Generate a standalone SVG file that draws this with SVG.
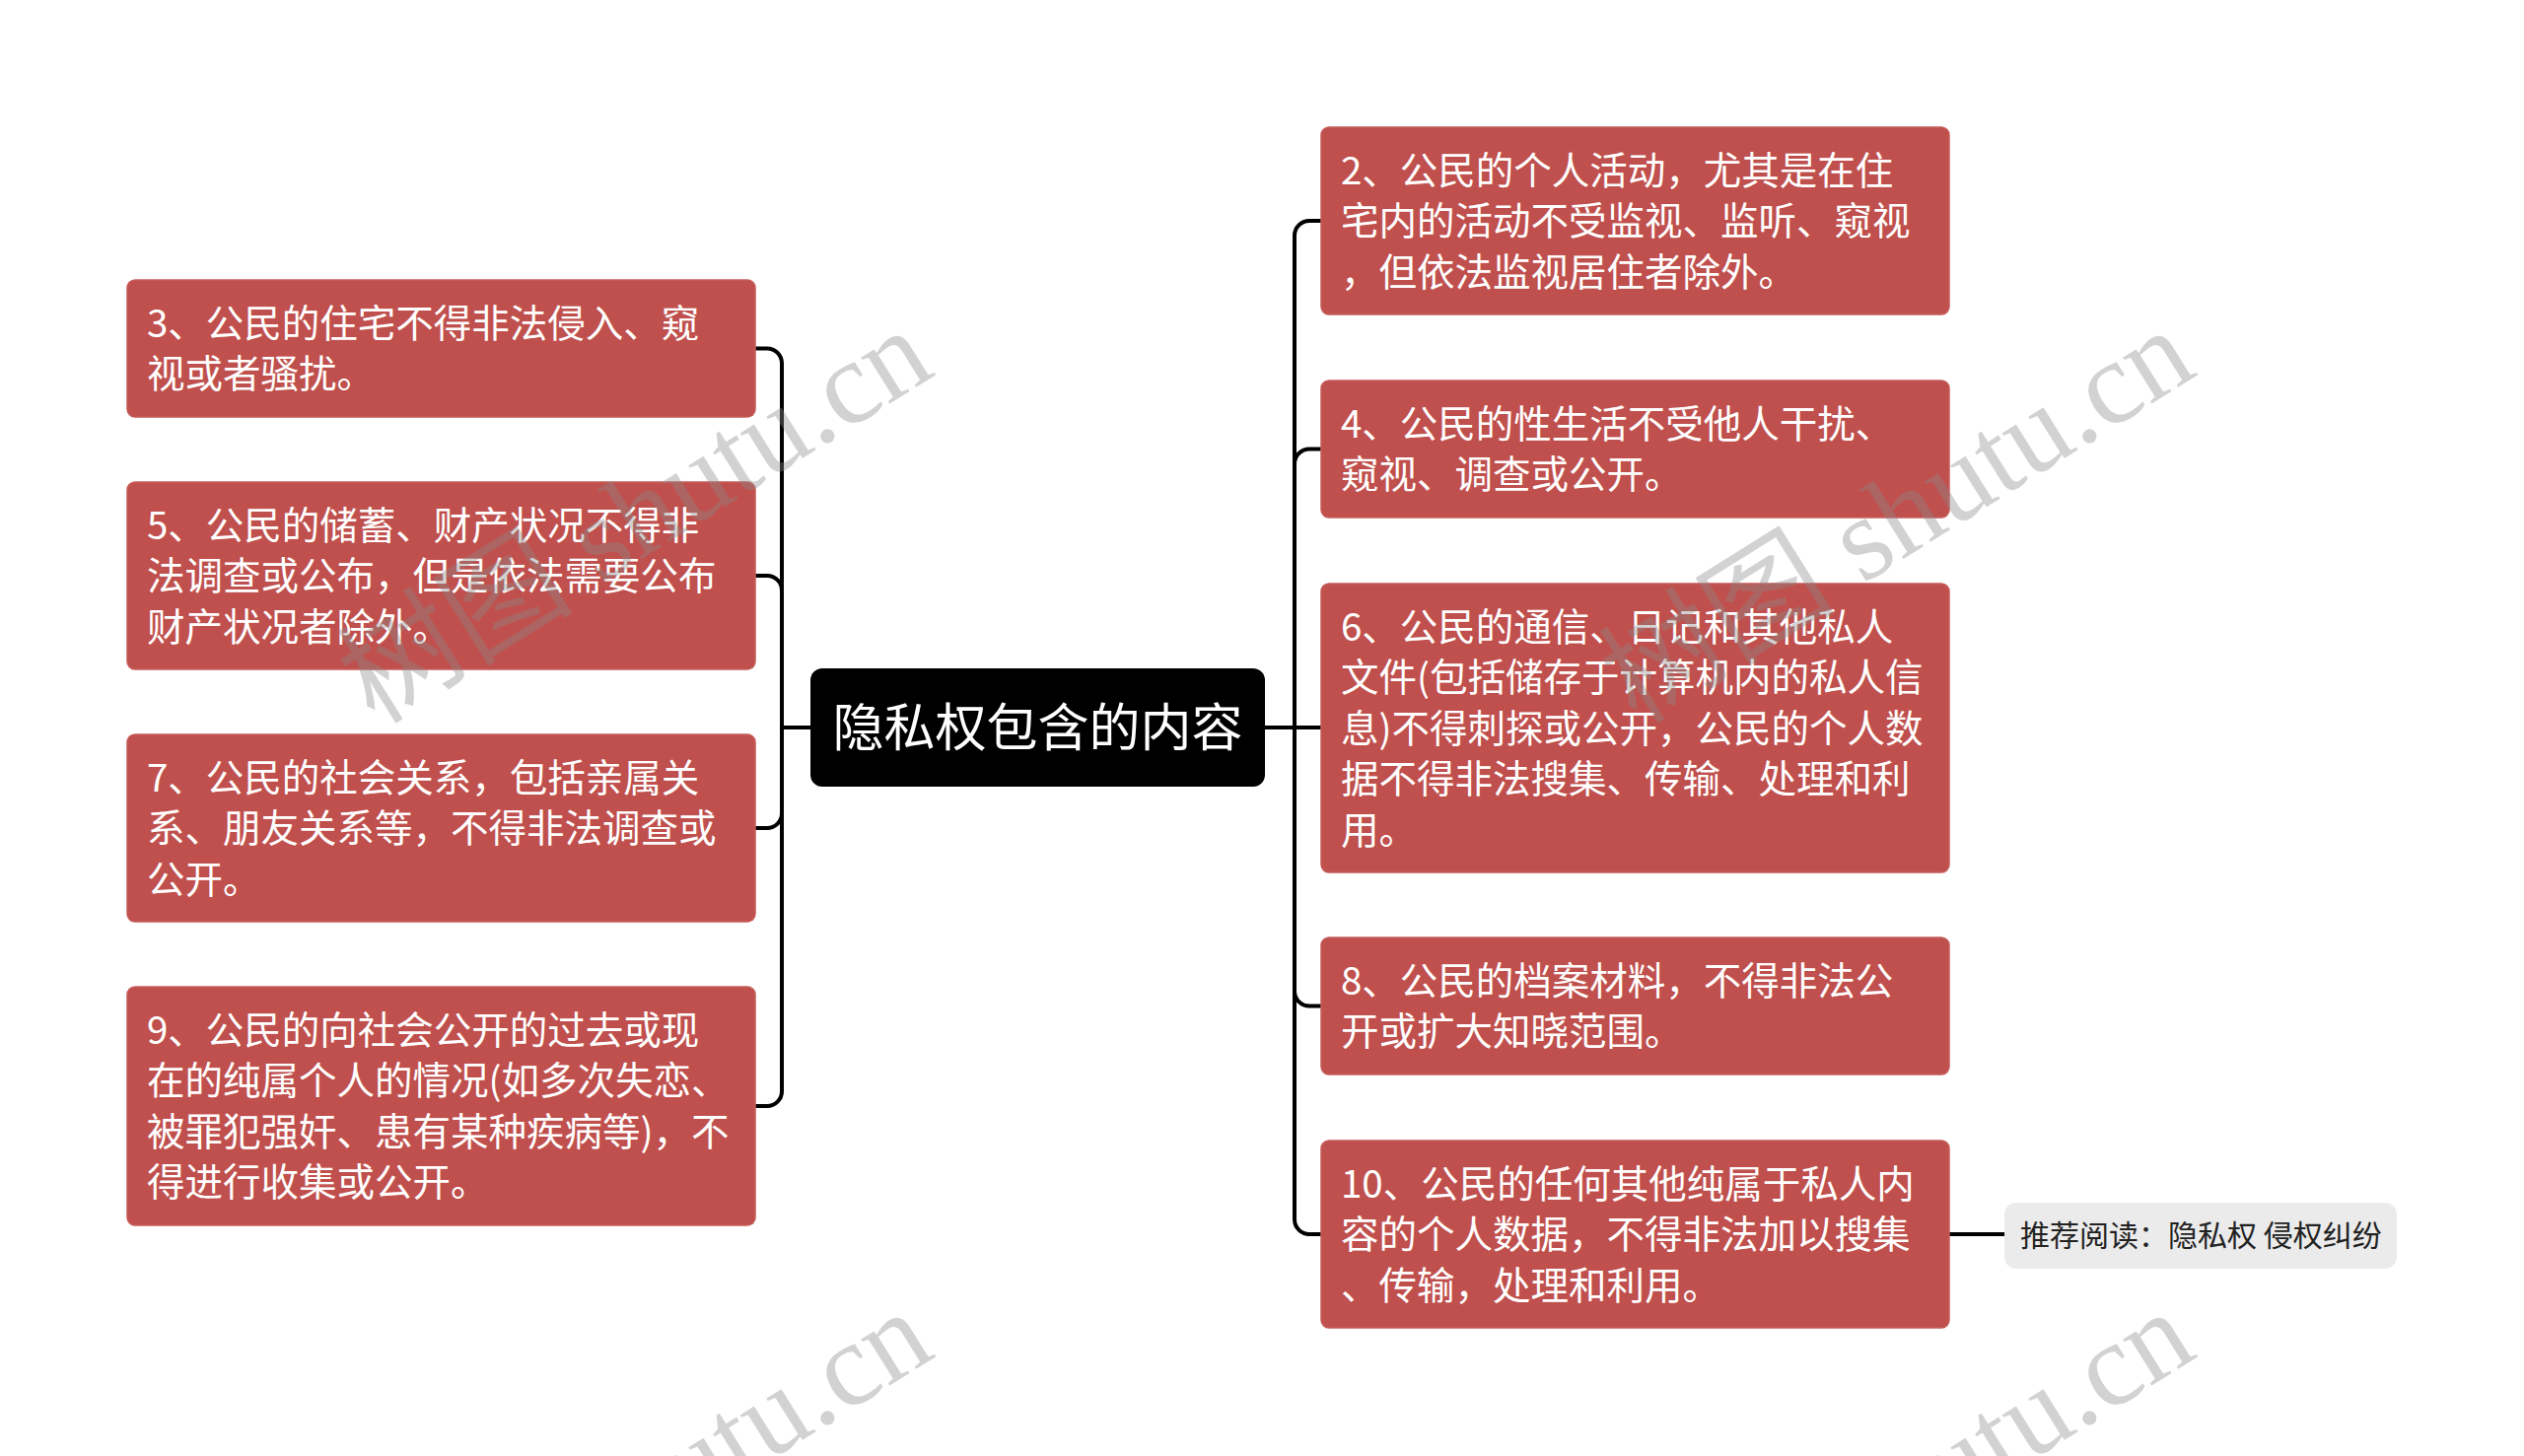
<svg xmlns="http://www.w3.org/2000/svg" width="2560" height="1477" viewBox="0 0 2560 1477">
<style>
.node rect{fill:#C0504D;stroke:#c55c59;stroke-width:1.5}
.node text{font-family:"Noto Sans CJK SC","Microsoft YaHei",sans-serif;font-size:38.5px;fill:#ffffff}
.root rect{fill:#000000}
.root text{font-family:"Noto Sans CJK SC",sans-serif;font-size:52px;fill:#ffffff}
.rec rect{fill:#ebebeb}
.rec text{font-family:"Noto Sans CJK SC",sans-serif;font-size:30px;fill:#222222}
.conn path{fill:none;stroke:#000000;stroke-width:4}
.wm{font-family:"Liberation Serif","Noto Sans CJK SC",serif;font-size:120px;fill:#8a8a8a;fill-opacity:0.38}
</style>
<rect width="2560" height="1477" fill="#ffffff"/>
<g id="connectors" class="conn">
<path d="M822 738 H793 V368.5 A15 15 0 0 0 778 353.5 H766"/>
<path d="M822 738 H793 V599 A15 15 0 0 0 778 584 H766"/>
<path d="M822 738 H793 V825 A15 15 0 0 1 778 840 H766"/>
<path d="M822 738 H793 V1107 A15 15 0 0 1 778 1122 H766"/>
<path d="M1283 738 H1313 V239 A15 15 0 0 1 1328 224 H1340"/>
<path d="M1283 738 H1313 V470.5 A15 15 0 0 1 1328 455.5 H1340"/>
<path d="M1283 738 H1340"/>
<path d="M1283 738 H1313 V1005.5 A15 15 0 0 0 1328 1020.5 H1340"/>
<path d="M1283 738 H1313 V1237 A15 15 0 0 0 1328 1252 H1340"/>
<path d="M1977 1252 H2033"/>
</g>
<g id="root" class="root">
<rect x="822" y="678" width="461" height="120" rx="12"/>
<text x="1052.5" y="757" text-anchor="middle">隐私权包含的内容</text>
</g>
<g id="n3" class="node">
<rect x="129" y="284" width="637" height="139" rx="8"/>
<text x="149" y="342">3、公民的住宅不得非法侵入、窥</text>
<text x="149" y="393.4">视或者骚扰。</text>
</g>
<g id="n5" class="node">
<rect x="129" y="489" width="637" height="190" rx="8"/>
<text x="149" y="547">5、公民的储蓄、财产状况不得非</text>
<text x="149" y="598.4">法调查或公布，但是依法需要公布</text>
<text x="149" y="649.8">财产状况者除外。</text>
</g>
<g id="n7" class="node">
<rect x="129" y="745" width="637" height="190" rx="8"/>
<text x="149" y="803">7、公民的社会关系，包括亲属关</text>
<text x="149" y="854.4">系、朋友关系等，不得非法调查或</text>
<text x="149" y="905.8">公开。</text>
</g>
<g id="n9" class="node">
<rect x="129" y="1001" width="637" height="242" rx="8"/>
<text x="149" y="1059">9、公民的向社会公开的过去或现</text>
<text x="149" y="1110.4">在的纯属个人的情况(如多次失恋、</text>
<text x="149" y="1161.8">被罪犯强奸、患有某种疾病等)，不</text>
<text x="149" y="1213.2">得进行收集或公开。</text>
</g>
<g id="n2" class="node">
<rect x="1340" y="129" width="637" height="190" rx="8"/>
<text x="1360" y="187">2、公民的个人活动，尤其是在住</text>
<text x="1360" y="238.4">宅内的活动不受监视、监听、窥视</text>
<text x="1360" y="289.8">，但依法监视居住者除外。</text>
</g>
<g id="n4" class="node">
<rect x="1340" y="386" width="637" height="139" rx="8"/>
<text x="1360" y="444">4、公民的性生活不受他人干扰、</text>
<text x="1360" y="495.4">窥视、调查或公开。</text>
</g>
<g id="n6" class="node">
<rect x="1340" y="592" width="637" height="293" rx="8"/>
<text x="1360" y="650">6、公民的通信、日记和其他私人</text>
<text x="1360" y="701.4">文件(包括储存于计算机内的私人信</text>
<text x="1360" y="752.8">息)不得刺探或公开，公民的个人数</text>
<text x="1360" y="804.2">据不得非法搜集、传输、处理和利</text>
<text x="1360" y="855.6">用。</text>
</g>
<g id="n8" class="node">
<rect x="1340" y="951" width="637" height="139" rx="8"/>
<text x="1360" y="1009">8、公民的档案材料，不得非法公</text>
<text x="1360" y="1060.4">开或扩大知晓范围。</text>
</g>
<g id="n10" class="node">
<rect x="1340" y="1157" width="637" height="190" rx="8"/>
<text x="1360" y="1215">10、公民的任何其他纯属于私人内</text>
<text x="1360" y="1266.4">容的个人数据，不得非法加以搜集</text>
<text x="1360" y="1317.8">、传输，处理和利用。</text>
</g>
<g id="rec" class="rec">
<rect x="2033" y="1220" width="398" height="67" rx="12"/>
<text x="2049" y="1264">推荐阅读：隐私权 侵权纠纷</text>
</g>
<g id="watermarks">
<text class="wm" x="380" y="736" transform="rotate(-32 380 736)">树图 shutu.cn</text>
<text class="wm" x="1660" y="736" transform="rotate(-32 1660 736)">树图 shutu.cn</text>
<text class="wm" x="380" y="1732" transform="rotate(-32 380 1732)">树图 shutu.cn</text>
<text class="wm" x="1660" y="1732" transform="rotate(-32 1660 1732)">树图 shutu.cn</text>
</g>
</svg>
